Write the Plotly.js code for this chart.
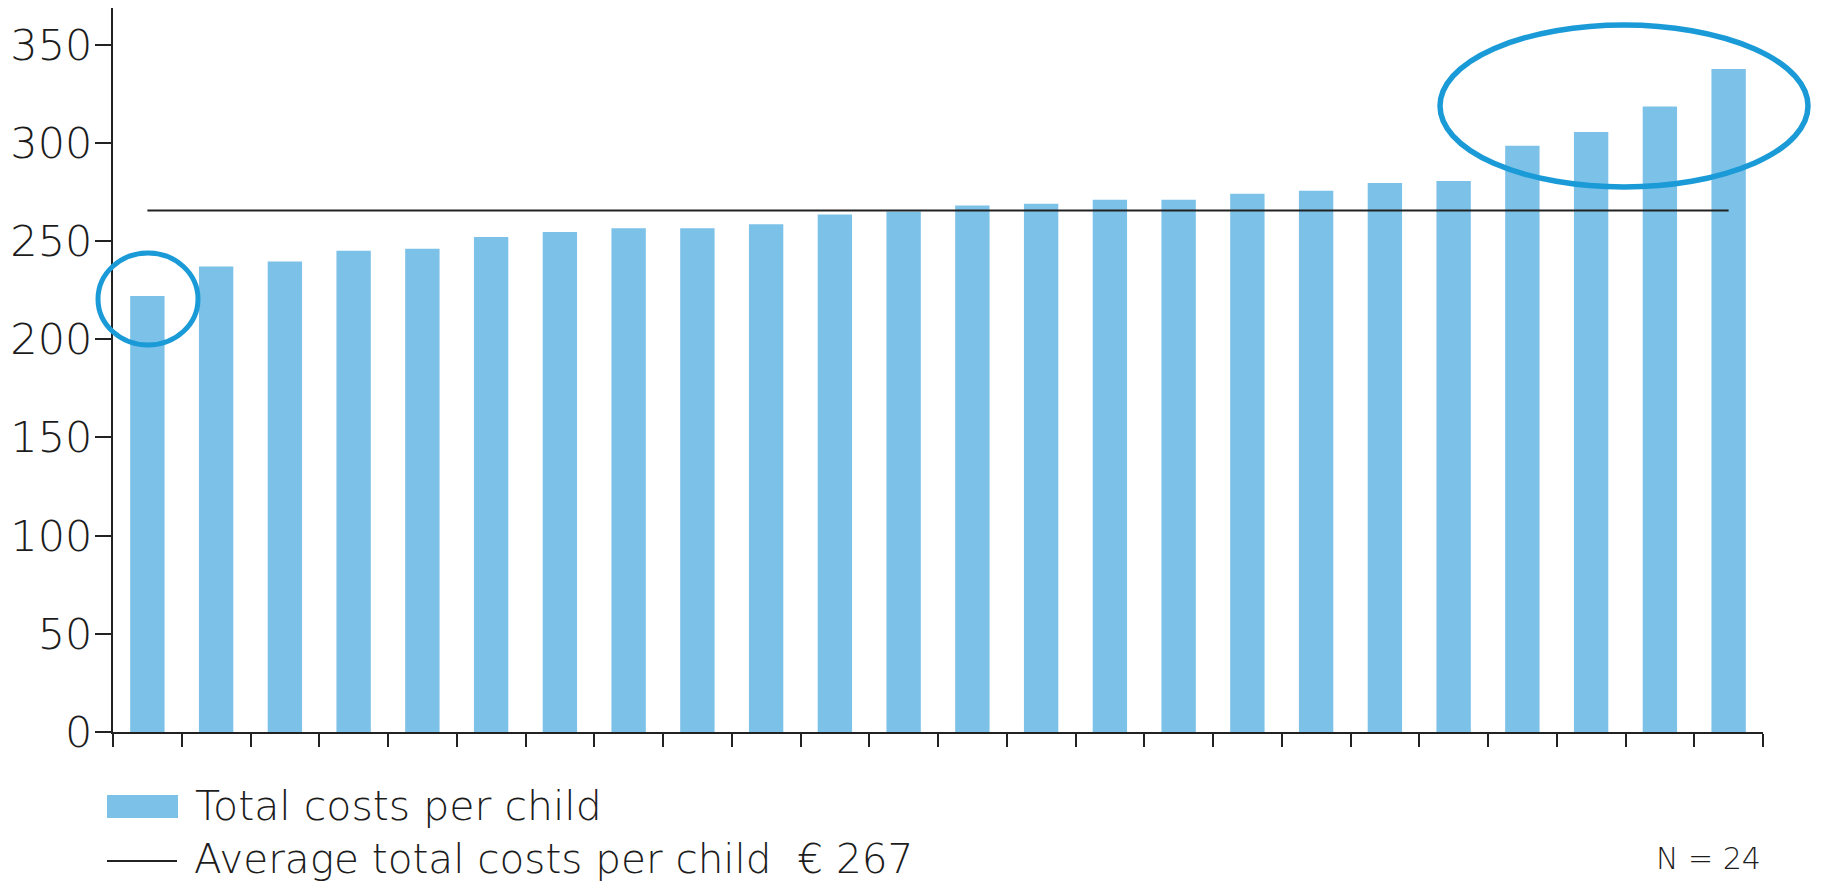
<!DOCTYPE html>
<html>
<head>
<meta charset="utf-8">
<script src="https://cdn.plot.ly/plotly-3.0.1.min.js"></script>
<style>
  html, body { margin: 0; padding: 0; background: #ffffff; }
  #chart { width: 1825px; height: 883px; }
</style>
</head>
<body>
<div id="chart"></div>
<script>
// ---- data ----
const facilities = ['1','2','3','4','5','6','7','8','9','10','11','12',
                    '13','14','15','16','17','18','19','20','21','22','23','24'];
const totalCostsPerChild = [222, 237, 239.5, 245, 246, 252, 254.5, 256.5, 256.5, 258.5, 263.5, 265,
                            268, 269, 271, 271, 274, 275.5, 279.5, 280.5, 298.5, 305.5, 318.5, 337.5];
const averageCost = 265.5;          // position of the drawn average line
const yTickValues = [0, 50, 100, 150, 200, 250, 300, 350];
const legendLabels = ['Total costs per child', 'Average total costs per child  € 267'];
const sampleNote = 'N = 24';

const barColor = '#7cc1e8';
const inkColor = '#222222';
const textColor = '#1c1c1c';
const circleColor = '#1a9bd7';
const fontFamily = 'DejaVu Sans, Liberation Sans, sans-serif';

const traces = [
  {
    type: 'bar',
    x: facilities,
    y: totalCostsPerChild,
    name: legendLabels[0],
    marker: { color: barColor, line: { width: 0 } },
    width: 0.5,
    hoverinfo: 'y',
    showlegend: false
  },
  {
    type: 'scatter',
    mode: 'lines',
    x: [facilities[0], facilities[facilities.length - 1]],
    y: [averageCost, averageCost],
    name: legendLabels[1],
    line: { color: inkColor, width: 2 },
    hoverinfo: 'skip',
    showlegend: false
  }
];

// plot area: left 113, top 8, bottom 732, right 1763
const W = 1825, H = 883;
const L = 113, T = 8, B = 151, R = 62;
const pw = W - L - R, ph = H - T - B;
const px = v => (v - L) / pw;          // pixel -> paper x
const py = v => (H - B - v) / ph;      // pixel -> paper y

const layout = {
  width: W,
  height: H,
  margin: { l: L, r: R, t: T, b: B, pad: 0 },
  paper_bgcolor: '#ffffff',
  plot_bgcolor: '#ffffff',
  showlegend: false,
  bargap: 0.5,
  font: { family: fontFamily, color: textColor, weight: 300 },
  xaxis: {
    type: 'category',
    range: [-0.5, facilities.length - 0.5],
    showline: true, linecolor: inkColor, linewidth: 2,
    ticks: 'outside', tickson: 'boundaries', ticklen: 13, tickwidth: 2, tickcolor: inkColor,
    showticklabels: false,
    showgrid: false, zeroline: false, fixedrange: true
  },
  yaxis: {
    range: [0, 368.6],
    tickmode: 'array',
    tickvals: yTickValues,
    ticktext: yTickValues.map(String),
    showline: true, linecolor: inkColor, linewidth: 2,
    ticks: 'outside', ticklen: 16, tickwidth: 2, tickcolor: inkColor,
    tickfont: { family: fontFamily, size: 43, color: textColor, weight: 300 },
    ticklabelstandoff: -6,
    showgrid: false, zeroline: false, fixedrange: true
  },
  shapes: [
    // x axis line overhang to the left of the y axis
    { type: 'line', xref: 'paper', yref: 'paper', x0: px(103), x1: 0, y0: 0, y1: 0,
      line: { color: inkColor, width: 2 } },
    // highlight ellipses
    { type: 'circle', xref: 'paper', yref: 'paper',
      x0: px(98), x1: px(198), y0: py(345), y1: py(253),
      line: { color: circleColor, width: 5 } },
    { type: 'circle', xref: 'paper', yref: 'paper',
      x0: px(1440), x1: px(1808), y0: py(187), y1: py(25),
      line: { color: circleColor, width: 5.5 } },
    // legend swatches
    { type: 'rect', xref: 'paper', yref: 'paper',
      x0: px(107), x1: px(178), y0: py(818), y1: py(795),
      fillcolor: barColor, line: { width: 0 } },
    { type: 'line', xref: 'paper', yref: 'paper',
      x0: px(107), x1: px(177), y0: py(861), y1: py(861),
      line: { color: inkColor, width: 2 } }
  ],
  annotations: [
    { xref: 'paper', yref: 'paper', x: px(193), y: py(806), xanchor: 'left', yanchor: 'middle',
      text: legendLabels[0], showarrow: false,
      font: { family: fontFamily, size: 41, color: textColor, weight: 300 } },
    { xref: 'paper', yref: 'paper', x: px(193), y: py(859), xanchor: 'left', yanchor: 'middle',
      text: legendLabels[1], showarrow: false, borderpad: 0,
      font: { family: fontFamily, size: 40.5, color: textColor, weight: 300 } },
    { xref: 'paper', yref: 'paper', x: px(1763), y: py(859), xanchor: 'right', yanchor: 'middle',
      text: sampleNote, showarrow: false,
      font: { family: fontFamily, size: 30, color: textColor, weight: 300 } }
  ]
};

Plotly.newPlot('chart', traces, layout, { displayModeBar: false, staticPlot: true });
</script>
</body>
</html>
